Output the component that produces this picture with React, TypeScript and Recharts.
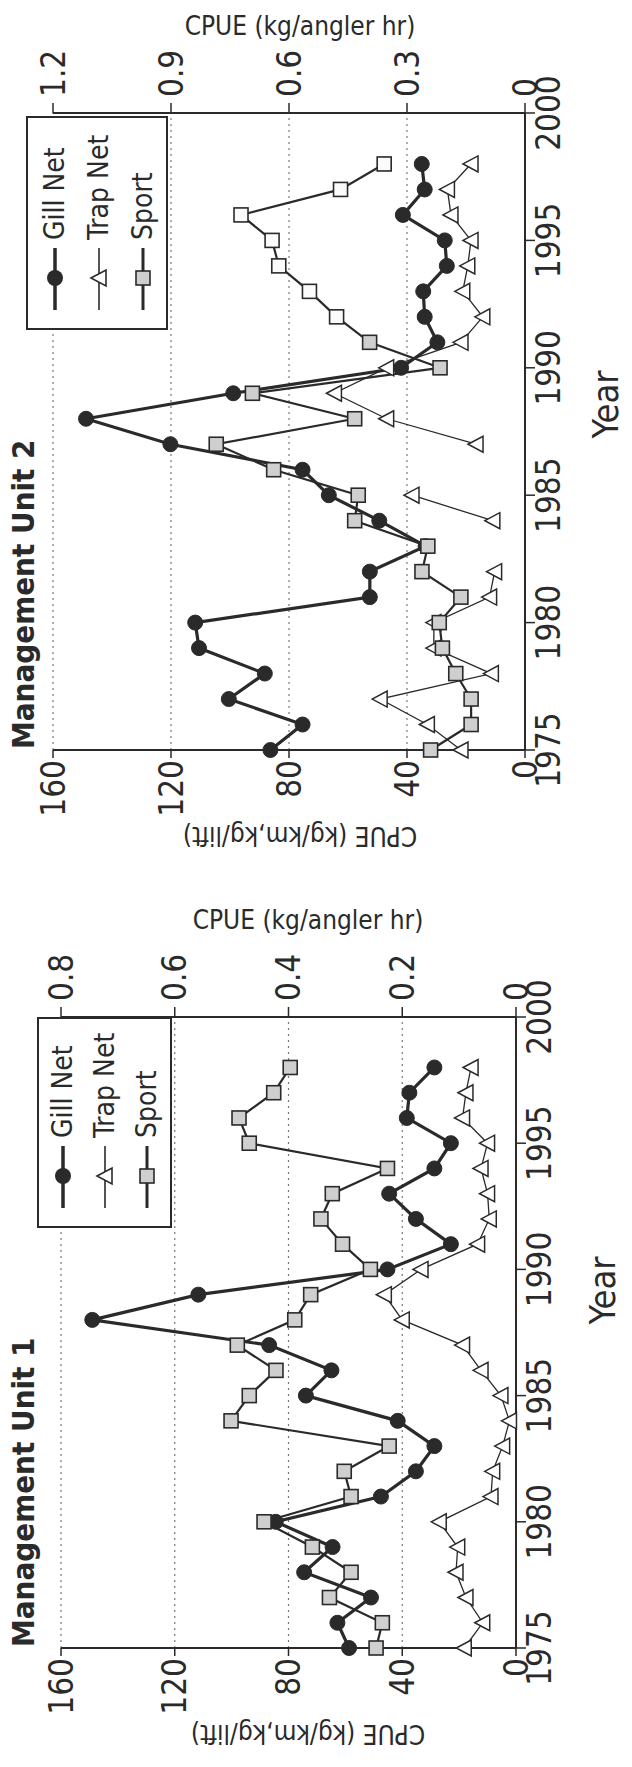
import React from 'react';
import { LineChart, Line, XAxis, YAxis, CartesianGrid, Legend } from 'recharts';

const years = [1975, 1976, 1977, 1978, 1979, 1980, 1981, 1982, 1983, 1984, 1985, 1986, 1987, 1988, 1989, 1990, 1991, 1992, 1993, 1994, 1995, 1996, 1997, 1998];

// Management Unit 2 (kg/km, kg/lift for nets; kg/angler hr for sport)
const unit2Gill = [86.3, 75.4, 100.4, 88.2, 110.5, 111.8, 52.6, 52.6, 33.7, 49.4, 66.5, 75.4, 120.2, 148.8, 98.9, 42, 29.7, 34, 34.5, 26.5, 27.2, 41.4, 34, 35];
const unit2Trap = [21.7, 33.1, 49.1, 11.4, 30.9, 30.9, 12, 10.3, null, 10.9, 38.3, null, 16.6, 46.9, 64.6, 46.9, 21.7, 14.3, 21.1, 19.4, 18.3, 25.1, 26.3, 18.3];
const unit2Sport = [0.24, 0.137, 0.137, 0.176, 0.21, 0.218, 0.163, 0.262, 0.247, 0.433, 0.424, 0.639, 0.785, 0.433, 0.693, 0.216, 0.395, 0.479, 0.548, 0.626, 0.643, 0.722, 0.469, 0.358];

// Management Unit 1
const unit1Gill = [58.7, 62.8, 51, 74.5, 64.5, 84.5, 47.5, 35.2, 28.7, 41.6, 73.9, 64.9, 86.8, 149, 111.7, 45.2, 22.9, 35.2, 44.6, 28.7, 22.9, 38.4, 37.5, 28.7];
const unit1Trap = [18.2, 11.7, 17.6, 21.1, 20.5, 27, 8.8, 8.2, 4.7, 2.3, 5.3, 12.3, 18.8, 40, 46.3, 33.4, 13.5, 9.4, 10, 12.3, 10, 18.8, 17.6, 15.8];
const unit1Sport = [0.246, 0.235, 0.328, 0.29, 0.358, 0.443, 0.29, 0.302, 0.223, 0.501, 0.469, 0.422, 0.49, 0.389, 0.361, 0.256, 0.305, 0.343, 0.323, 0.226, 0.469, 0.487, 0.426, 0.397];

const yearTicks = [1975, 1980, 1985, 1990, 1995, 2000];
const leftTicks = [0, 40, 80, 120, 160];
const unit2RightTicks = [0, 0.3, 0.6, 0.9, 1.2];
const unit1RightTicks = [0, 0.2, 0.4, 0.6, 0.8];
const seriesOrder = ['gill', 'trap', 'sport'];

const INK = '#2a2a2a';
const FONT = '"DejaVu Sans Condensed", "DejaVu Sans", sans-serif';

const GillDot = (p: any) =>
  p.cx == null || p.cy == null ? <g key={p.index} /> : <circle key={p.index} cx={p.cx} cy={p.cy} r={7.5} fill={INK} stroke={INK} strokeWidth={1} />;

const TrapDot = (p: any) => {
  if (p.cx == null || p.cy == null || p.value == null) return <g key={p.index} />;
  const { cx, cy } = p;
  return <polygon key={p.index} points={`${cx},${cy - 8} ${cx + 8},${cy + 7} ${cx - 8},${cy + 7}`} fill="#fff" stroke={INK} strokeWidth={1.5} />;
};

const sportDot = (openFrom: number | null) => (p: any) => {
  if (p.cx == null || p.cy == null) return <g key={p.index} />;
  const open = openFrom != null && p.payload && p.payload.year >= openFrom;
  return <rect key={p.index} x={p.cx - 7} y={p.cy - 7} width={14} height={14} fill={open ? '#fbfbfb' : '#cfcfcf'} stroke={INK} strokeWidth={1.6} />;
};

const LegendIcon = ({ kind }: { kind: string }) => (
  <svg width={84} height={30} style={{ display: 'block' }}>
    <line x1={18} y1={15} x2={80} y2={15} stroke={INK} strokeWidth={kind === 'gill' ? 3.5 : kind === 'sport' ? 3 : 1.6} />
    {kind === 'gill' && <circle cx={50} cy={15} r={8} fill={INK} />}
    {kind === 'trap' && <polygon points="50,7 58,22 42,22" fill="#fff" stroke={INK} strokeWidth={1.6} />}
    {kind === 'sport' && <rect x={43} y={8} width={14} height={14} fill="#cfcfcf" stroke={INK} strokeWidth={1.6} />}
  </svg>
);

const legendContent = (rowGap: number, padTop: number) => (props: any) => {
  const items = [...(props.payload || [])].sort(
    (a: any, b: any) => seriesOrder.indexOf(a.dataKey) - seriesOrder.indexOf(b.dataKey)
  );
  return (
    <div style={{ width: '100%', height: '100%', boxSizing: 'border-box', border: `2px solid ${INK}`, background: '#fff', paddingTop: padTop }}>
      {items.map((item: any) => (
        <div key={item.value} style={{ display: 'flex', alignItems: 'center', height: rowGap }}>
          <LegendIcon kind={item.dataKey} />
          <span style={{ fontFamily: FONT, fontSize: 28, color: INK, marginLeft: 4, lineHeight: 1 }}>{item.value}</span>
        </div>
      ))}
    </div>
  );
};

interface PanelProps {
  top: number;
  w: number;
  h: number;
  margin: { top: number; right: number; bottom: number; left: number };
  title: string;
  titleLeft: number;
  gill: (number | null)[];
  trap: (number | null)[];
  sport: (number | null)[];
  rightMax: number;
  rightTicks: number[];
  openSportFrom: number | null;
  legendBox: { left: number; top: number; width: number; height: number; rowGap: number; padTop: number };
  leftLabelDx: number;
  rightLabelDx: number;
  labelCy: number;
  yearDx: number;
  yearDy: number;
}

function Panel(p: PanelProps) {
  const data = years.map((year, i) => ({ year, gill: p.gill[i], trap: p.trap[i], sport: p.sport[i] }));
  const tickStyle = { fill: INK, fontSize: 33, fontFamily: FONT };
  return (
    <div style={{ position: 'absolute', left: 0, top: p.top, width: p.h, height: p.w }}>
      <div
        style={{
          position: 'absolute',
          left: 0,
          top: 0,
          width: p.w,
          height: p.h,
          transformOrigin: '0 0',
          transform: `translateY(${p.w}px) rotate(-90deg)`,
        }}
      >
        <LineChart width={p.w} height={p.h} data={data} margin={p.margin}>
          <CartesianGrid yAxisId="left" vertical={false} stroke="#777" strokeDasharray="2 4" strokeWidth={1.2} />
          <XAxis
            dataKey="year"
            type="number"
            domain={[1975, 2000]}
            ticks={yearTicks}
            height={60}
            tickSize={10}
            tick={tickStyle}
            axisLine={{ stroke: INK, strokeWidth: 2 }}
            tickLine={{ stroke: INK, strokeWidth: 1.5 }}
            label={(lp: any) => {
              const vb = lp.viewBox;
              return (
                <text x={vb.x + vb.width / 2 + p.yearDx} y={vb.y + p.yearDy} textAnchor="middle" fill={INK} fontSize={36} fontFamily={FONT}>
                  Year
                </text>
              );
            }}
          />
          <YAxis
            yAxisId="left"
            domain={[0, 160]}
            ticks={leftTicks}
            width={80}
            tickSize={8}
            tick={tickStyle}
            axisLine={{ stroke: INK, strokeWidth: 2 }}
            tickLine={{ stroke: INK, strokeWidth: 1.5 }}
            label={(lp: any) => {
              const vb = lp.viewBox;
              const cx = vb.x + p.leftLabelDx;
              const cy = p.labelCy;
              return (
                <text x={cx} y={cy} transform={`rotate(-90 ${cx} ${cy})`} textAnchor="middle" dominantBaseline="central" fill={INK} fontSize={26} fontFamily={FONT}>
                  CPUE (kg/km,kg/lift)
                </text>
              );
            }}
          />
          <YAxis
            yAxisId="right"
            orientation="right"
            domain={[0, p.rightMax]}
            ticks={p.rightTicks}
            width={80}
            tickSize={10}
            tickMargin={6}
            tick={tickStyle}
            axisLine={{ stroke: INK, strokeWidth: 2 }}
            tickLine={{ stroke: INK, strokeWidth: 1.5 }}
            label={(lp: any) => {
              const vb = lp.viewBox;
              const cx = vb.x + p.rightLabelDx;
              const cy = p.labelCy;
              return (
                <text x={cx} y={cy} transform={`rotate(90 ${cx} ${cy})`} textAnchor="middle" dominantBaseline="central" fill={INK} fontSize={26} fontFamily={FONT}>
                  CPUE (kg/angler hr)
                </text>
              );
            }}
          />
          <Legend
            layout="vertical"
            align="center"
            verticalAlign="middle"
            wrapperStyle={{ left: p.legendBox.left, top: p.legendBox.top, width: p.legendBox.width, height: p.legendBox.height }}
            content={legendContent(p.legendBox.rowGap, p.legendBox.padTop)}
          />
          <Line yAxisId="left" dataKey="gill" name="Gill Net" stroke={INK} strokeWidth={3.2} dot={GillDot} isAnimationActive={false} />
          <Line yAxisId="left" dataKey="trap" name="Trap Net" stroke={INK} strokeWidth={1.3} dot={TrapDot} isAnimationActive={false} />
          <Line yAxisId="right" dataKey="sport" name="Sport" stroke={INK} strokeWidth={2.2} dot={sportDot(p.openSportFrom)} isAnimationActive={false} />
        </LineChart>
        <div
          style={{
            position: 'absolute',
            left: p.titleLeft,
            top: 8,
            fontFamily: FONT,
            fontWeight: 'bold',
            fontSize: 31,
            lineHeight: 1,
            color: INK,
            whiteSpace: 'nowrap',
          }}
        >
          {p.title}
        </div>
      </div>
    </div>
  );
}

export default function App() {
  return (
    <div style={{ position: 'relative', width: 632, height: 1767, background: '#fff', overflow: 'hidden' }}>
      <style>{'body{margin:0;background:#fff}'}</style>
      <Panel
        top={0}
        w={885}
        h={632}
        margin={{ top: 53, right: 33, bottom: 47, left: 55 }}
        title="Management Unit 2"
        titleLeft={136}
        gill={unit2Gill}
        trap={unit2Trap}
        sport={unit2Sport}
        rightMax={1.2}
        rightTicks={unit2RightTicks}
        openSportFrom={1992}
        legendBox={{ left: 555, top: 26, width: 214, height: 142, rowGap: 44, padTop: 5 }}
        leftLabelDx={-6}
        rightLabelDx={87}
        labelCy={300}
        yearDx={27}
        yearDy={93}
      />
      <Panel
        top={885}
        w={882}
        h={632}
        margin={{ top: 61, right: 52, bottom: 56, left: 39 }}
        title="Management Unit 1"
        titleLeft={120}
        gill={unit1Gill}
        trap={unit1Trap}
        sport={unit1Sport}
        rightMax={0.8}
        rightTicks={unit1RightTicks}
        openSportFrom={null}
        legendBox={{ left: 539, top: 37, width: 211, height: 135, rowGap: 42, padTop: 3 }}
        leftLabelDx={-6}
        rightLabelDx={97}
        labelCy={308}
        yearDx={42}
        yearDy={99}
      />
    </div>
  );
}
